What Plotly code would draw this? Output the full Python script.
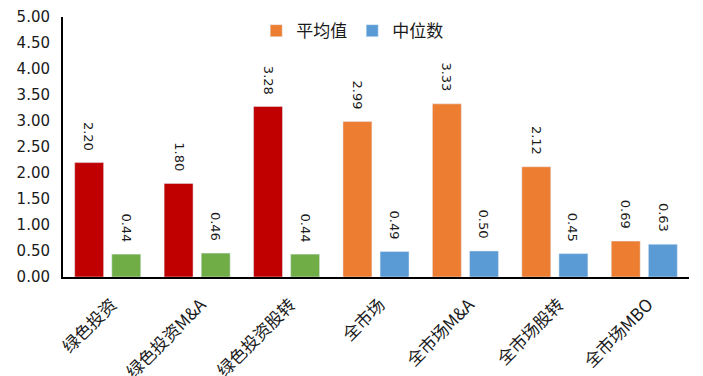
import plotly.graph_objects as go

categories = ["绿色投资", "绿色投资M&A", "绿色投资股转", "全市场", "全市场M&A", "全市场股转", "全市场MBO"]
mean_vals = [2.20, 1.80, 3.28, 2.99, 3.33, 2.12, 0.69]
median_vals = [0.44, 0.46, 0.44, 0.49, 0.50, 0.45, 0.63]
tick_vals = [0, 0.5, 1, 1.5, 2, 2.5, 3, 3.5, 4, 4.5, 5]
tick_text = ["0.00", "0.50", "1.00", "1.50", "2.00", "2.50", "3.00", "3.50", "4.00", "4.50", "5.00"]

green_n = 3
RED, GREEN, ORANGE, BLUE = "#C00000", "#70AD47", "#ED7D31", "#5B9BD5"
LABEL_FONT = dict(family="DejaVu Sans", size=13, color="#1a1a1a")
BAR_OFFSET = 18.5  # px from category centre

fig = go.Figure()
fig.add_bar(x=categories[:green_n], y=mean_vals[:green_n], marker_color=RED, offsetgroup="mean",
            showlegend=False)
fig.add_bar(x=categories[:green_n], y=median_vals[:green_n], marker_color=GREEN, offsetgroup="median",
            showlegend=False)
fig.add_bar(x=categories[green_n:], y=mean_vals[green_n:], marker_color=ORANGE, offsetgroup="mean",
            name="平均值")
fig.add_bar(x=categories[green_n:], y=median_vals[green_n:], marker_color=BLUE, offsetgroup="median",
            name="中位数")

for cat, m, d in zip(categories, mean_vals, median_vals):
    for val, shift in ((m, -BAR_OFFSET), (d, BAR_OFFSET)):
        fig.add_annotation(x=cat, y=val, text=f"{val:.2f}", showarrow=False, textangle=90,
                           xanchor="center", yanchor="bottom", xshift=shift, yshift=10,
                           font=LABEL_FONT)

fig.update_layout(
    width=703, height=376,
    margin=dict(l=63, r=14, t=17, b=99, autoexpand=False),
    paper_bgcolor="white", plot_bgcolor="white",
    barmode="group", bargap=0.17, bargroupgap=0.22,
    font=dict(family="Noto Sans CJK SC, DejaVu Sans", color="#1a1a1a"),
    legend=dict(orientation="h", x=0.462, xanchor="center", y=1.015, yanchor="top",
                font=dict(size=17, family="Noto Sans CJK SC"),
                bgcolor="rgba(0,0,0,0)"),
)
fig.update_xaxes(categoryorder="array", categoryarray=categories, tickangle=-45,
                 showline=True, linecolor="black", linewidth=2, ticks="", automargin=False,
                 ticklabelshift=4, ticklabelstandoff=9,
                 tickfont=dict(size=17, family="Noto Sans CJK SC", color="#1a1a1a"))
fig.update_yaxes(range=[0, 5], tickvals=tick_vals, ticktext=tick_text, showgrid=False,
                 showline=True, linecolor="black", linewidth=2, ticks="", zeroline=False,
                 automargin=False, ticklabelstandoff=8,
                 tickfont=dict(size=15, family="DejaVu Sans", color="#1a1a1a"))

fig.write_html("out.html", config={"displayModeBar": False},
               post_script="document.body.style.margin='0px';")
